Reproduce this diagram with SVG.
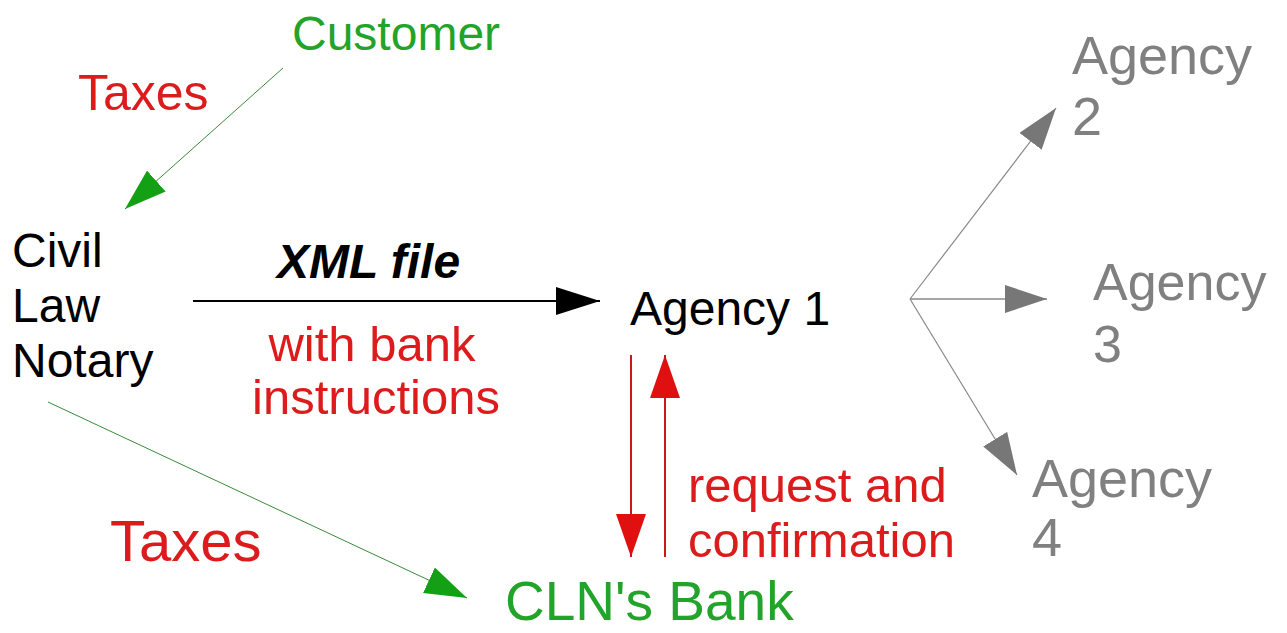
<svg xmlns="http://www.w3.org/2000/svg" width="1287" height="633" viewBox="0 0 1287 633">
<style>
text{font-family:"Liberation Sans",Arial,sans-serif;font-size:48px}
.g{fill:#22a32a}.r{fill:#dc1c1c}.k{fill:#000}.y{fill:#808080;font-size:54px}
</style>
<defs>
<marker id="hg" markerUnits="userSpaceOnUse" markerWidth="44" markerHeight="28" refX="42" refY="14" orient="auto"><path d="M0,0 L42,14 L0,28 z" fill="#14a014"/></marker>
<marker id="hk" markerUnits="userSpaceOnUse" markerWidth="46" markerHeight="28" refX="44" refY="14" orient="auto"><path d="M0,0 L44,14 L0,28 z" fill="#000"/></marker>
<marker id="hr" markerUnits="userSpaceOnUse" markerWidth="46" markerHeight="30" refX="43" refY="15" orient="auto"><path d="M0,0 L43,15 L0,30 z" fill="#e01010"/></marker>
<marker id="hy" markerUnits="userSpaceOnUse" markerWidth="44" markerHeight="28" refX="42" refY="14" orient="auto"><path d="M0,0 L42,14 L0,28 z" fill="#777"/></marker>
</defs>
<rect width="1287" height="633" fill="#fff"/>
<g id="connectors">
<line x1="283" y1="68" x2="125" y2="209" stroke="#3a8a3a" stroke-width="1" marker-end="url(#hg)"/>
<line x1="48" y1="402" x2="467" y2="598" stroke="#3a8a3a" stroke-width="1" marker-end="url(#hg)"/>
<line x1="193" y1="301" x2="600" y2="301" stroke="#000" stroke-width="2" marker-end="url(#hk)"/>
<line x1="631" y1="355" x2="631" y2="557" stroke="#c81818" stroke-width="2" marker-end="url(#hr)"/>
<line x1="665" y1="557" x2="665" y2="355" stroke="#c81818" stroke-width="2" marker-end="url(#hr)"/>
<line x1="910" y1="299" x2="1056" y2="108" stroke="#888" stroke-width="1.2" marker-end="url(#hy)"/>
<line x1="910" y1="299" x2="1047" y2="299" stroke="#888" stroke-width="1.5" marker-end="url(#hy)"/>
<line x1="910" y1="299" x2="1017" y2="475" stroke="#888" stroke-width="1.2" marker-end="url(#hy)"/>
<text class="r" x="78" y="110" style="font-size:50px">Taxes</text>
<text class="r" x="110" y="561" style="font-size:58px">Taxes</text>
<text x="277" y="278" class="k" style="font-weight:bold;font-style:italic">XML file</text>
<text class="r" x="372" y="361" text-anchor="middle" style="font-size:49px">with bank</text>
<text class="r" x="376" y="414" text-anchor="middle" style="font-size:49px">instructions</text>
<text class="r" x="688" y="502" style="font-size:49px">request and</text>
<text class="r" x="688" y="557" style="font-size:49px">confirmation</text>
</g>
<g id="customer"><text class="g" x="292" y="50">Customer</text></g>
<g id="notary"><text class="k" x="12" y="267">Civil</text><text class="k" x="12" y="322">Law</text><text class="k" x="12" y="377">Notary</text></g>
<g id="agency1"><text class="k" x="630" y="325">Agency 1</text></g>
<g id="agency2"><text class="y" x="1072" y="74">Agency</text><text class="y" x="1072" y="135">2</text></g>
<g id="agency3"><text class="y" x="1093" y="300" style="font-size:52px">Agency</text><text class="y" x="1093" y="362" style="font-size:52px">3</text></g>
<g id="agency4"><text class="y" x="1032" y="497">Agency</text><text class="y" x="1032" y="556">4</text></g>
<g id="bank"><text class="g" x="505" y="620" style="font-size:55px">CLN's Bank</text></g>
</svg>
